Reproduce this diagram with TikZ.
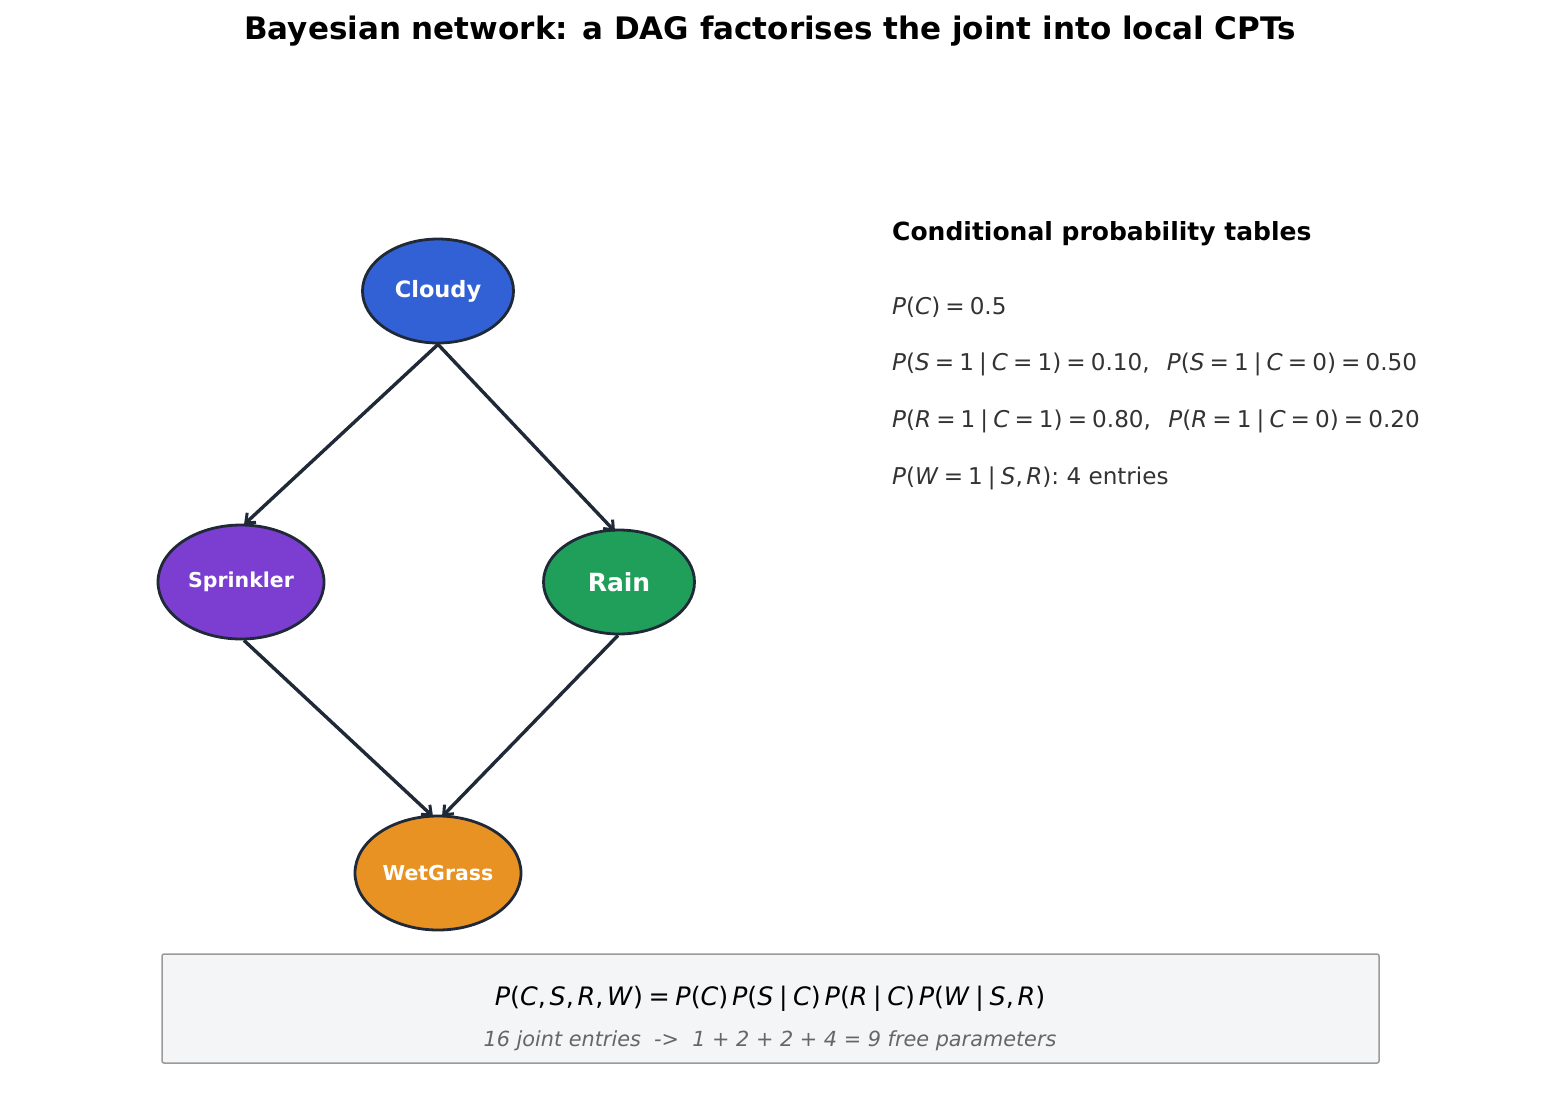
\documentclass[tikz,border=0pt]{standalone}
\usepackage{fontspec}
\setmainfont{DejaVu Sans}
\usetikzlibrary{shapes.geometric,arrows.meta}
\definecolor{edgec}{HTML}{1F2937}
\definecolor{cblue}{HTML}{3161D4}
\definecolor{cpurple}{HTML}{7B3ED0}
\definecolor{cgreen}{HTML}{209F5A}
\definecolor{corange}{HTML}{E89223}
\definecolor{txtc}{HTML}{333333}
\definecolor{subc}{HTML}{666666}
\definecolor{boxfill}{HTML}{F4F5F7}
\definecolor{boxdraw}{HTML}{9A9A9A}
\newcommand\vi[1]{\textit{#1}}
\newcommand\eqs{\hspace{0.22em}=\hspace{0.22em}}
\newcommand\gv{\hspace{0.22em}|\hspace{0.22em}}
\tikzset{
  bnode/.style={ellipse, draw=edgec, line width=2.8pt, inner sep=0pt, text=white, font=\bfseries},
  barrow/.style={draw=edgec, line width=3.4pt, -{Straight Barb[length=8pt,width=13pt,line width=3pt]}},
  cpt/.style={anchor=west, inner sep=0pt, text=txtc, font=\fontsize{23.1}{27}\selectfont},
}
\begin{document}
\begin{tikzpicture}[x=1pt,y=-1pt]
\useasboundingbox (0,0) rectangle (1541,1117);
\node[font=\fontsize{31}{36}\selectfont\bfseries] (title) at (770,31) {Bayesian network: a DAG factorises the joint into local CPTs};
\node[bnode, fill=cblue, minimum width=151pt, minimum height=104pt, font=\fontsize{22.5}{26}\selectfont\bfseries] (c) at (438,291) {Cloudy};
\node[bnode, fill=cpurple, minimum width=166pt, minimum height=114pt, font=\fontsize{20.5}{24}\selectfont\bfseries] (s) at (241,582) {Sprinkler};
\node[bnode, fill=cgreen, minimum width=151pt, minimum height=104pt, font=\fontsize{25}{29}\selectfont\bfseries] (r) at (619,582) {Rain};
\node[bnode, fill=corange, minimum width=166pt, minimum height=114pt, font=\fontsize{20.5}{24}\selectfont\bfseries] (w) at (438,873) {WetGrass};
\draw[barrow] (c.south) -- ([xshift=3pt,yshift=-1pt]s.north);
\draw[barrow] (c.south) -- ([xshift=-4pt,yshift=-3pt]r.north);
\draw[barrow] ([xshift=3pt]s.south) -- ([xshift=-5pt,yshift=-2pt]w.north);
\draw[barrow] ([xshift=-1pt]r.south) -- ([xshift=4pt,yshift=-2pt]w.north);
\node[anchor=west, inner sep=0pt, font=\fontsize{25}{29}\selectfont\bfseries] (hdr) at (892,234) {Conditional probability tables};
\node[cpt] (l1) at (892,307) {\vi{P}(\vi{C})\eqs 0.5};
\node[cpt] (l2) at (892,364) {\vi{P}(\vi{S}\eqs 1\gv\vi{C}\eqs 1)\eqs 0.10,\hspace{0.75em}\vi{P}(\vi{S}\eqs 1\gv\vi{C}\eqs 0)\eqs 0.50};
\node[cpt] (l3) at (892,421) {\vi{P}(\vi{R}\eqs 1\gv\vi{C}\eqs 1)\eqs 0.80,\hspace{0.75em}\vi{P}(\vi{R}\eqs 1\gv\vi{C}\eqs 0)\eqs 0.20};
\node[cpt] (l4) at (892,478) {\vi{P}(\vi{W}\eqs 1\gv\vi{S},\hspace{0.15em}\vi{R}): 4 entries};
\node[draw=boxdraw, line width=1.5pt, fill=boxfill, rounded corners=2pt, minimum width=1217pt, minimum height=109pt, inner sep=0pt] (box) at (770.5,1008.5) {};
\node[font=\fontsize{25.4}{29}\selectfont] (f) at (770,999) {\vi{P}(\vi{C},\hspace{0.15em}\vi{S},\hspace{0.15em}\vi{R},\hspace{0.15em}\vi{W})\eqs\vi{P}(\vi{C})\hspace{0.15em}\vi{P}(\vi{S}\gv\vi{C})\hspace{0.15em}\vi{P}(\vi{R}\gv\vi{C})\hspace{0.15em}\vi{P}(\vi{W}\gv\vi{S},\hspace{0.15em}\vi{R})};
\node[text=subc, font=\fontsize{20.8}{24}\selectfont\itshape] (sub) at (770,1041) {16 joint entries\ \ ->\ \ 1 + 2 + 2 + 4 = 9 free parameters};
\end{tikzpicture}
\end{document}
